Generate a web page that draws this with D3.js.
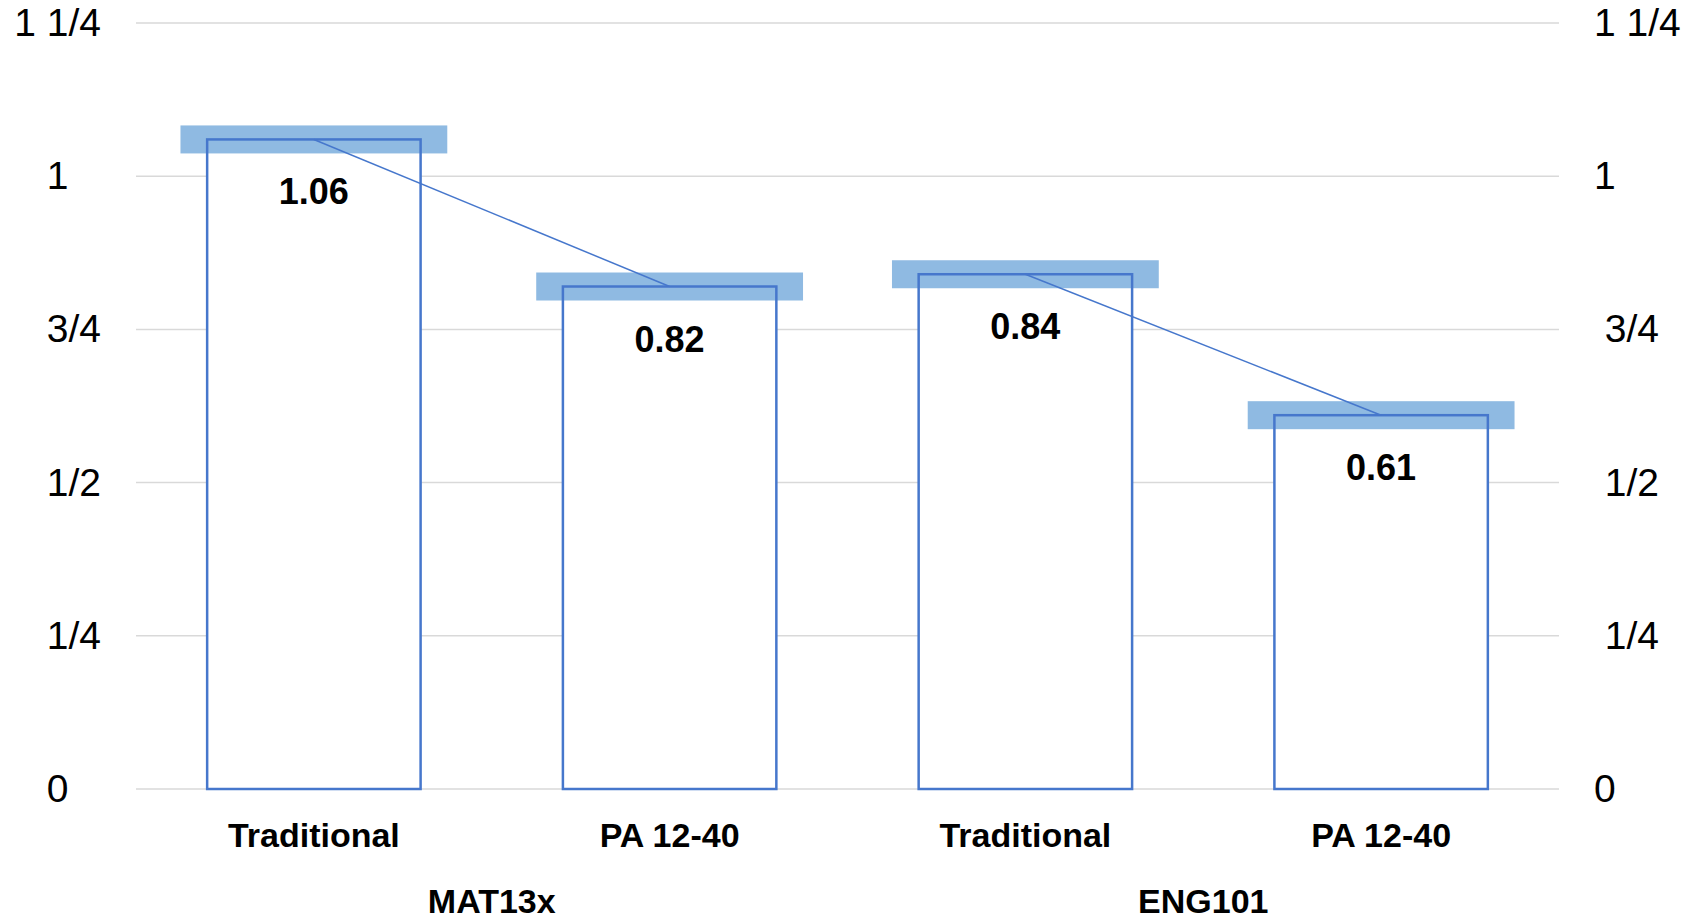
<!DOCTYPE html>
<html>
<head>
<meta charset="utf-8">
<script src="https://cdn.jsdelivr.net/npm/d3@7/dist/d3.min.js"></script>
<style>
  html, body { margin: 0; padding: 0; background: #fff; }
  svg text { font-family: "Liberation Sans", Arial, sans-serif; white-space: pre; }
</style>
</head>
<body>
<svg id="chart" width="1692" height="919"></svg>
<script>
// Ratios per course and delivery mode
const categories = ["Traditional", "PA 12-40", "Traditional", "PA 12-40"];
const groups = ["MAT13x", "MAT13x", "ENG101", "ENG101"];
const groupNames = ["MAT13x", "ENG101"];
const values = [1.06, 0.82, 0.84, 0.61];
const valueLabels = ["1.06", "0.82", "0.84", "0.61"];
const yTicks = [0, 0.25, 0.5, 0.75, 1, 1.25];
const yTickLabels = ["0   ", " 1/4", " 1/2", " 3/4", "1   ", "1 1/4"];

const W = 1692, H = 919;
const margin = { left: 136, right: 133, top: 23, bottom: 130 };

const svg = d3.select("#chart");

const x = d3.scaleBand()
  .domain(d3.range(categories.length))
  .range([margin.left, W - margin.right])
  .padding(0);

const y = d3.scaleLinear()
  .domain([0, 1.25])
  .range([H - margin.bottom, margin.top]);

const barW = x.bandwidth() * 0.6;
const capW = x.bandwidth() * 0.75;
const capH = 28;
const cx = i => x(i) + x.bandwidth() / 2;

const blue = "#4677cc";
const lightBlue = "#8fbae2";

// Gridlines
svg.append("g")
  .selectAll("line")
  .data(yTicks)
  .join("line")
  .attr("x1", margin.left)
  .attr("x2", W - margin.right)
  .attr("y1", d => y(d))
  .attr("y2", d => y(d))
  .attr("stroke", "#d9d9d9")
  .attr("stroke-width", 1.5);

// Left and right value axes (text only)
const leftAxis = d3.axisLeft(y)
  .tickValues(yTicks)
  .tickFormat((d, i) => yTickLabels[i])
  .tickSize(0)
  .tickPadding(0);
svg.append("g")
  .attr("transform", `translate(${margin.left - 35},0)`)
  .call(leftAxis)
  .call(g => g.select(".domain").remove())
  .selectAll("text")
  .attr("font-size", 39)
  .attr("fill", "#000")
  .attr("font-family", "Liberation Sans, Arial, sans-serif");

const rightAxis = d3.axisRight(y)
  .tickValues(yTicks)
  .tickFormat((d, i) => yTickLabels[i])
  .tickSize(0)
  .tickPadding(0);
svg.append("g")
  .attr("transform", `translate(${W - margin.right + 35},0)`)
  .call(rightAxis)
  .call(g => g.select(".domain").remove())
  .selectAll("text")
  .attr("font-size", 39)
  .attr("fill", "#000")
  .attr("font-family", "Liberation Sans, Arial, sans-serif");

// Bar fills
svg.append("g")
  .selectAll("rect")
  .data(values)
  .join("rect")
  .attr("x", (d, i) => cx(i) - barW / 2)
  .attr("y", d => y(d))
  .attr("width", barW)
  .attr("height", d => y(0) - y(d))
  .attr("fill", "#fff");

// Light blue caps centred on each value
svg.append("g")
  .selectAll("rect")
  .data(values)
  .join("rect")
  .attr("x", (d, i) => cx(i) - capW / 2)
  .attr("y", d => y(d) - capH / 2)
  .attr("width", capW)
  .attr("height", capH)
  .attr("fill", lightBlue);

// Bar outlines
svg.append("g")
  .selectAll("rect")
  .data(values)
  .join("rect")
  .attr("x", (d, i) => cx(i) - barW / 2)
  .attr("y", d => y(d))
  .attr("width", barW)
  .attr("height", d => y(0) - y(d))
  .attr("fill", "none")
  .attr("stroke", blue)
  .attr("stroke-width", 2.5);

// Connector lines within each course
const line = d3.line().x(d => cx(d)).y(d => y(values[d]));
groupNames.forEach(g => {
  const idx = d3.range(values.length).filter(i => groups[i] === g);
  svg.append("path")
    .attr("d", line(idx))
    .attr("fill", "none")
    .attr("stroke", blue)
    .attr("stroke-width", 1.5);
});

// Value labels inside bars
svg.append("g")
  .selectAll("text")
  .data(values)
  .join("text")
  .attr("x", (d, i) => cx(i))
  .attr("y", d => y(d) + 65)
  .attr("text-anchor", "middle")
  .attr("font-size", 36)
  .attr("font-weight", "bold")
  .attr("fill", "#000")
  .text((d, i) => valueLabels[i]);

// Category labels
svg.append("g")
  .selectAll("text")
  .data(categories)
  .join("text")
  .attr("x", (d, i) => cx(i))
  .attr("y", y(0) + 58)
  .attr("text-anchor", "middle")
  .attr("font-size", 34)
  .attr("font-weight", "bold")
  .attr("fill", "#000")
  .text(d => d);

// Course labels
svg.append("g")
  .selectAll("text")
  .data(groupNames)
  .join("text")
  .attr("x", g => d3.mean(d3.range(values.length).filter(i => groups[i] === g), cx))
  .attr("y", y(0) + 124)
  .attr("text-anchor", "middle")
  .attr("font-size", 34)
  .attr("font-weight", "bold")
  .attr("fill", "#000")
  .text(d => d);
</script>
</body>
</html>
